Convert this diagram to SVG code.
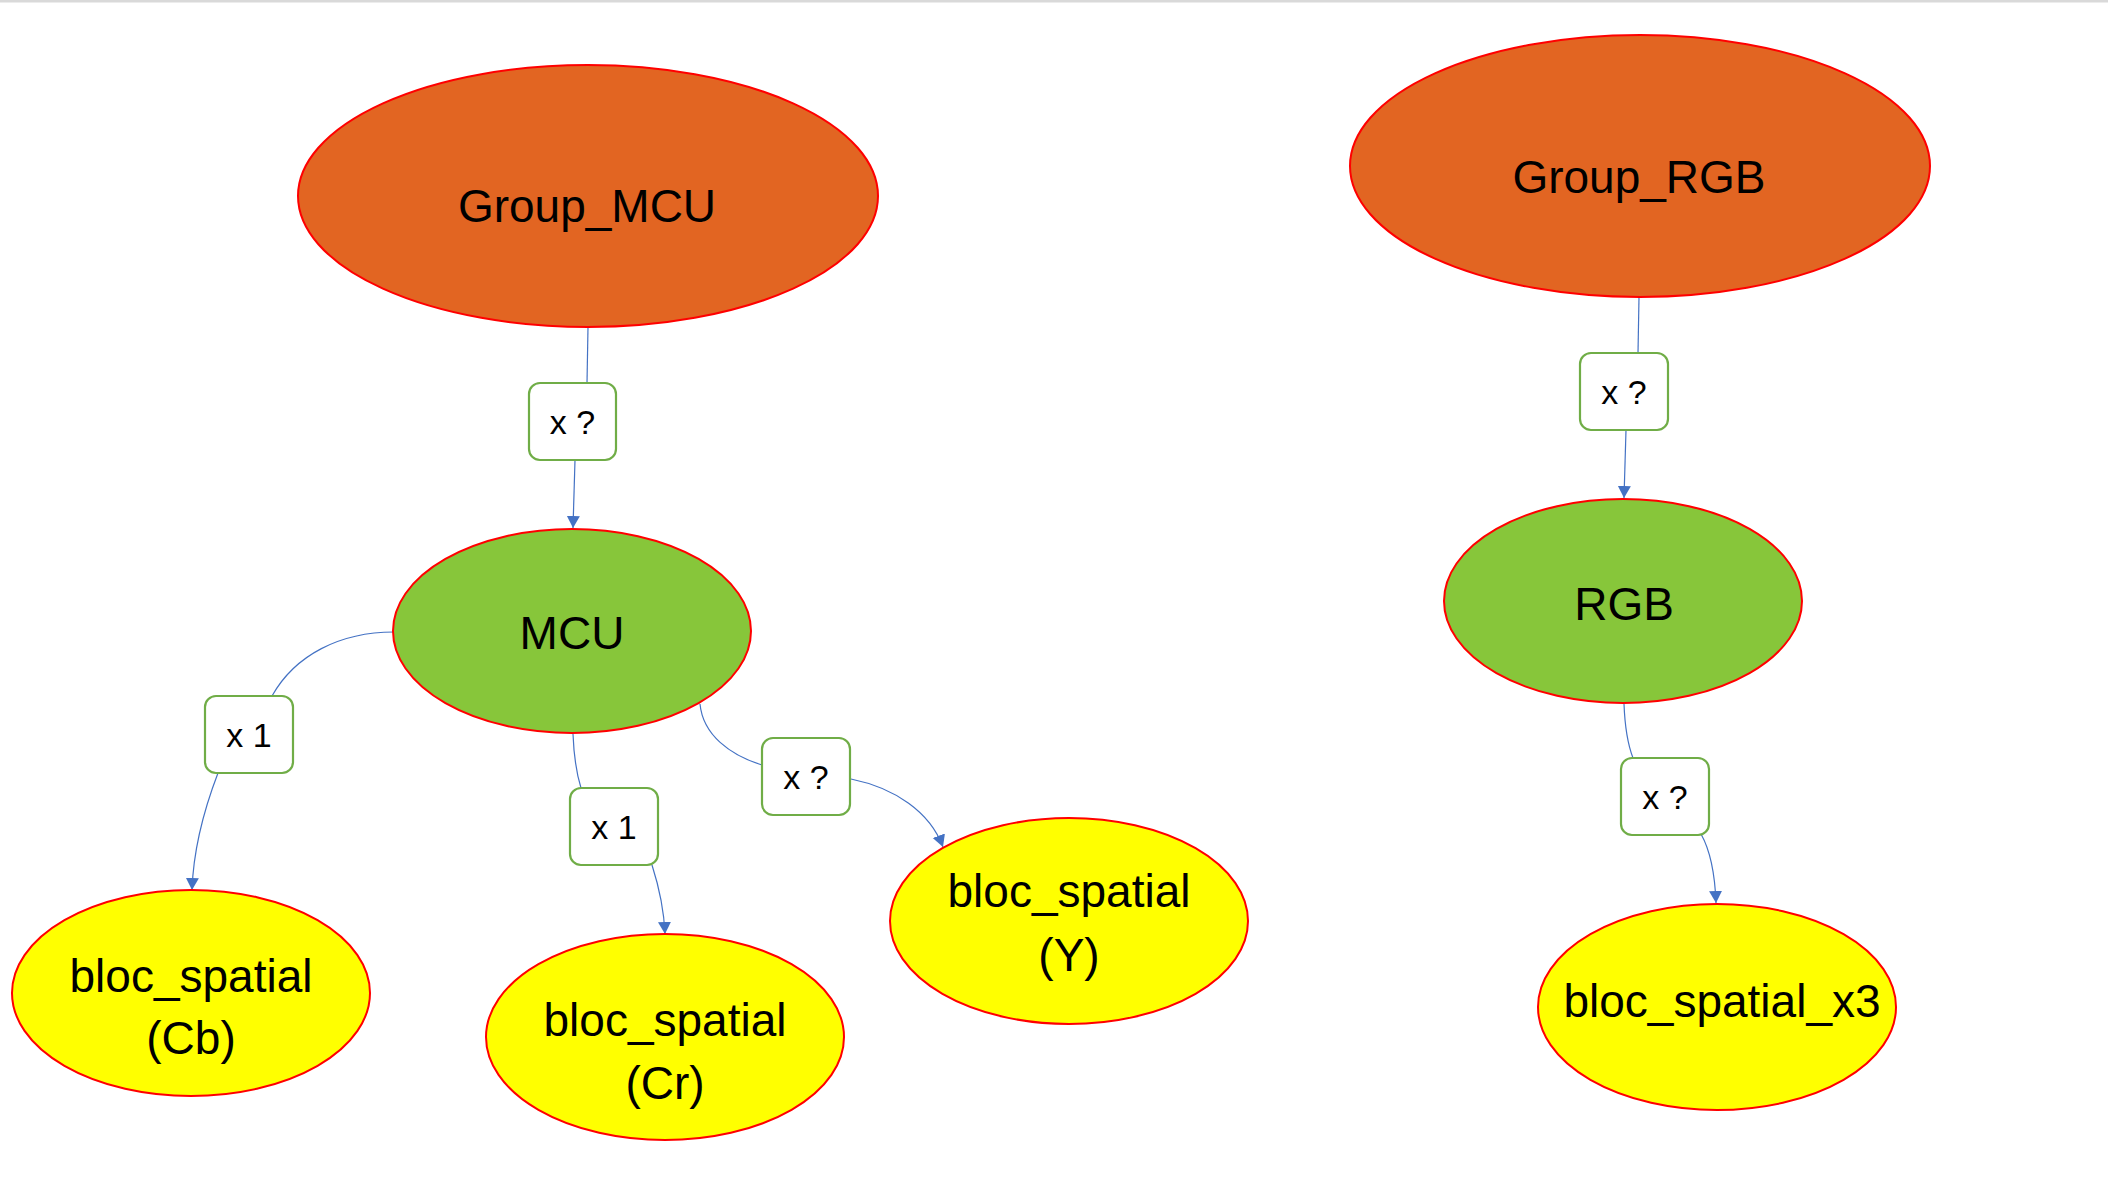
<svg xmlns="http://www.w3.org/2000/svg" width="2108" height="1186" viewBox="0 0 2108 1186">
<defs>
<marker id="arr" markerUnits="userSpaceOnUse" markerWidth="14" markerHeight="14" refX="12" refY="6.5" orient="auto">
<path d="M0,0 L12,6.5 L0,13 z" fill="#4472C4"/>
</marker>
<style>
.ell{stroke:#FF0000;stroke-width:2}
.grp{fill:#E26522}
.mid{fill:#87C63A}
.leaf{fill:#FFFF00}
.lbl{fill:#FFFFFF;stroke:#70AD47;stroke-width:2.2}
.t{font-family:"Liberation Sans",Arial,sans-serif;fill:#000;text-anchor:middle}
.big{font-size:46px}
.lt{font-size:34px}
.con{fill:none;stroke:#4472C4;stroke-width:1.2}
</style>
</defs>
<rect width="2108" height="1186" fill="#FFFFFF"/>
<rect x="0" y="0" width="2108" height="2.5" fill="#D9D9D9"/>

<g id="connectors">
<path class="con" d="M588,327 L587,383"/>
<path class="con" d="M575,460 L573,528" marker-end="url(#arr)"/>
<path class="con" d="M394,632 C340,632 295,655 272,696"/>
<path class="con" d="M218,773 C200,820 193,860 192,890" marker-end="url(#arr)"/>
<path class="con" d="M573,734 C574,760 577,775 581,788"/>
<path class="con" d="M652,865 C660,890 664,910 665,934" marker-end="url(#arr)"/>
<path class="con" d="M700,704 C703,735 730,755 762,765"/>
<path class="con" d="M851,779 C895,788 930,812 943,847" marker-end="url(#arr)"/>
<path class="con" d="M1639,297 L1638,353"/>
<path class="con" d="M1626,430 L1624,498" marker-end="url(#arr)"/>
<path class="con" d="M1624,704 C1625,730 1628,745 1633,758"/>
<path class="con" d="M1701,834 C1710,850 1715,875 1716,903" marker-end="url(#arr)"/>
</g>

<g id="group_mcu">
<ellipse class="ell grp" cx="588" cy="196" rx="290" ry="131"/>
<text class="t big" x="587" y="222">Group_MCU</text>
</g>
<g id="mcu">
<ellipse class="ell mid" cx="572" cy="631" rx="179" ry="102"/>
<text class="t big" x="572" y="649">MCU</text>
</g>
<g id="bloc_cb">
<ellipse class="ell leaf" cx="191" cy="993" rx="179" ry="103"/>
<text class="t big" x="191" y="992">bloc_spatial</text>
<text class="t big" x="191" y="1054">(Cb)</text>
</g>
<g id="bloc_cr">
<ellipse class="ell leaf" cx="665" cy="1037" rx="179" ry="103"/>
<text class="t big" x="665" y="1036">bloc_spatial</text>
<text class="t big" x="665" y="1099">(Cr)</text>
</g>
<g id="bloc_y">
<ellipse class="ell leaf" cx="1069" cy="921" rx="179" ry="103"/>
<text class="t big" x="1069" y="907">bloc_spatial</text>
<text class="t big" x="1069" y="971">(Y)</text>
</g>
<g id="group_rgb">
<ellipse class="ell grp" cx="1640" cy="166" rx="290" ry="131"/>
<text class="t big" x="1639" y="193">Group_RGB</text>
</g>
<g id="rgb">
<ellipse class="ell mid" cx="1623" cy="601" rx="179" ry="102"/>
<text class="t big" x="1624" y="620">RGB</text>
</g>
<g id="bloc_x3">
<ellipse class="ell leaf" cx="1717" cy="1007" rx="179" ry="103"/>
<text class="t big" x="1722" y="1017">bloc_spatial_x3</text>
</g>

<g id="label_mcu">
<rect class="lbl" x="529" y="383" width="87" height="77" rx="11"/>
<text class="t lt" x="572.5" y="434">x ?</text>
</g>
<g id="label_cb">
<rect class="lbl" x="205" y="696" width="88" height="77" rx="11"/>
<text class="t lt" x="249" y="747">x 1</text>
</g>
<g id="label_cr">
<rect class="lbl" x="570" y="788" width="88" height="77" rx="11"/>
<text class="t lt" x="614" y="839">x 1</text>
</g>
<g id="label_y">
<rect class="lbl" x="762" y="738" width="88" height="77" rx="11"/>
<text class="t lt" x="806" y="789">x ?</text>
</g>
<g id="label_rgb">
<rect class="lbl" x="1580" y="353" width="88" height="77" rx="11"/>
<text class="t lt" x="1624" y="404">x ?</text>
</g>
<g id="label_x3">
<rect class="lbl" x="1621" y="758" width="88" height="77" rx="11"/>
<text class="t lt" x="1665" y="809">x ?</text>
</g>
</svg>
